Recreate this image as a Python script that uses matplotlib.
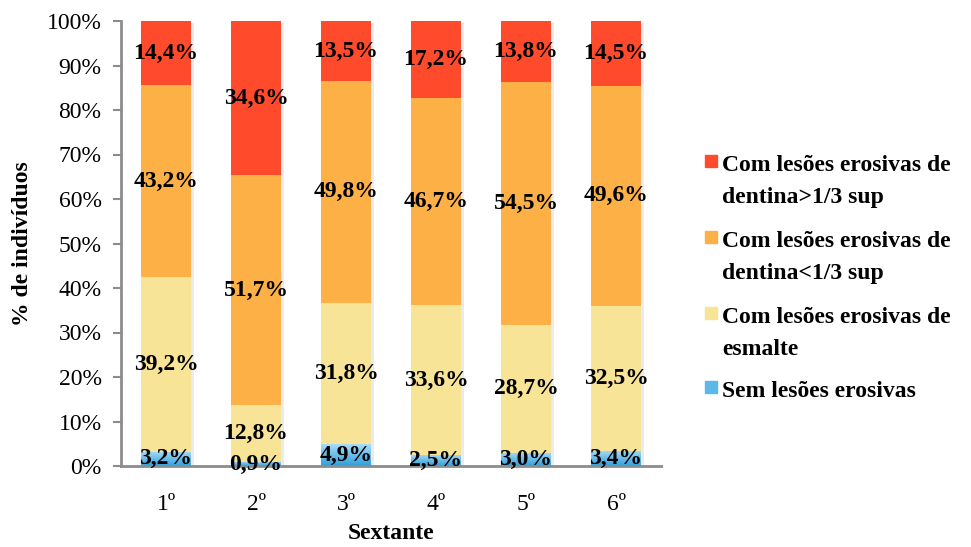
import matplotlib
matplotlib.use("Agg")
import matplotlib.pyplot as plt
import numpy as np
from matplotlib.colors import LinearSegmentedColormap
from matplotlib.patches import Rectangle

plt.rcParams["font.family"] = ["Liberation Serif", "DejaVu Serif"]

sextants = ["1º", "2º", "3º", "4º", "5º", "6º"]
sem_lesoes = [3.2, 0.9, 4.9, 2.5, 3.0, 3.4]
esmalte = [39.2, 12.8, 31.8, 33.6, 28.7, 32.5]
dentina_inf = [43.2, 51.7, 49.8, 46.7, 54.5, 49.6]
dentina_sup = [14.4, 34.6, 13.5, 17.2, 13.8, 14.5]

series = [
    (["Sem lesões erosivas"], sem_lesoes, "#5bb8e8"),
    (["Com lesões erosivas de", "esmalte"], esmalte, "#f7e497"),
    (["Com lesões erosivas de", "dentina<1/3 sup"], dentina_inf, "#fdb045"),
    (["Com lesões erosivas de", "dentina>1/3 sup"], dentina_sup, "#ff4a2b"),
]

W, H = 971, 547
fig = plt.figure(figsize=(W / 100, H / 100), dpi=100)
ax = fig.add_axes([121 / W, 1 - 466 / H, 540 / W, 445 / H])

x = np.arange(len(sextants))
width = 0.55
bottom = np.zeros(len(sextants))
blue_cmap = LinearSegmentedColormap.from_list("blue", ["#2f9fdc", "#a9dcf7"])

for name, vals, color in series:
    vals = np.array(vals)
    # soft drop shadow behind each segment
    ax.bar(x + 0.035, vals, width, bottom=bottom - 0.4, color="#000000",
           alpha=0.08, zorder=1, linewidth=0)
    bars = ax.bar(x, vals, width, bottom=bottom, color=color, zorder=2,
                  linewidth=0)
    if name[0].startswith("Sem"):
        grad = np.linspace(0, 1, 64).reshape(-1, 1)
        for b in bars:
            x0, y0 = b.get_x(), b.get_y()
            im = ax.imshow(grad, cmap=blue_cmap, aspect="auto", origin="lower",
                           extent=[x0, x0 + b.get_width(), y0, y0 + b.get_height()],
                           zorder=3)
            im.set_clip_path(b)
    for xi, b0, v in zip(x, bottom, vals):
        ax.text(xi, b0 + v / 2, f"{v:.1f}%".replace(".", ","), ha="center",
                va="center", fontsize=17, fontweight="bold", zorder=5)
    bottom = bottom + vals

ax.set_xlim(-0.5, len(sextants) - 0.5)
ax.set_ylim(0, 100)
ax.set_yticks(np.arange(0, 101, 10))
ax.set_yticklabels([f"{t}%" for t in range(0, 101, 10)], fontsize=17)
ax.set_xticks(x)
ax.set_xticklabels(sextants, fontsize=17)
ax.tick_params(axis="x", length=0, pad=20)
ax.tick_params(axis="y", length=6, width=1.5, color="#8c8c8c", pad=8)

for side in ["top", "right"]:
    ax.spines[side].set_visible(False)
for side in ["left", "bottom"]:
    ax.spines[side].set_color("#8c8c8c")
    ax.spines[side].set_linewidth(2)
ax.spines["bottom"].set_zorder(4)

ax.set_ylabel("% de indivíduos", fontsize=17, fontweight="bold", labelpad=10)
ax.set_xlabel("Sextante", fontsize=17, fontweight="bold", labelpad=6)

# legend on the right, top entry first, marker aligned with the first line
baselines = [171, 247, 323, 397]
for (lines, vals, color), base in zip(series[::-1], baselines):
    fig.patches.append(Rectangle((705 / W, 1 - (base - 4) / H), 12 / W, 12 / H,
                                 transform=fig.transFigure, color=color))
    for i, line in enumerate(lines):
        fig.text(722 / W, 1 - (base + 32 * i) / H, line, ha="left",
                 va="baseline", fontsize=17, fontweight="bold")

fig.savefig("out.png", dpi=100)
